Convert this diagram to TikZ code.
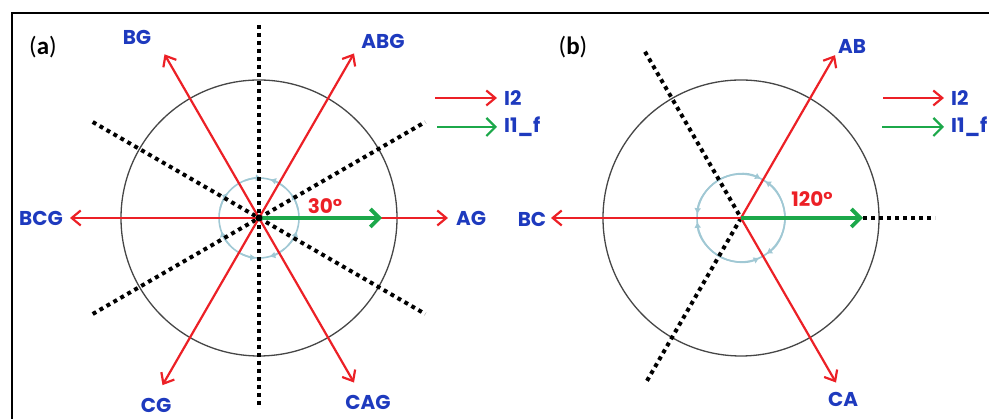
\documentclass[tikz,border=0pt]{standalone}
\usepackage{fontspec}
\setmainfont{Poppins}
\newfontfamily\tagfont{Carlito}
\usepackage{tikz}
\usetikzlibrary{arrows.meta}
\definecolor{PhasorRed}{RGB}{236, 32, 38}
\definecolor{FundGreen}{RGB}{28, 168, 74}
\definecolor{PhaseBlue}{RGB}{30, 58, 190}
\definecolor{SkyTick}{RGB}{160, 200, 212}
\definecolor{RingGray}{RGB}{70, 70, 70}

\begin{document}
\begin{tikzpicture}[x=1pt, y=1pt,
  phasor/.style={PhasorRed, line width=2.2pt, -{Straight Barb[length=9pt, width=15pt]}},
  fund/.style={FundGreen, line width=3.8pt, -{Straight Barb[length=9pt, width=18pt]}},
  axisdots/.style={line width=4pt, dash pattern=on 4pt off 4pt},
  ring/.style={draw=RingGray, line width=1.3pt},
  tickarc/.style={SkyTick, line width=1.6pt, -{Latex[length=6pt, width=7pt]}},
  lbl/.style={PhaseBlue, font=\bfseries\fontsize{20}{23}\selectfont, inner sep=1pt},
  anglbl/.style={PhasorRed, font=\bfseries\fontsize{20}{23}\selectfont, inner sep=1pt},
  tag/.style={font=\tagfont\fontsize{25}{28}\selectfont, inner sep=1pt}]
\useasboundingbox (0,0) rectangle (989,419);
\draw[line width=1.8pt] (12,0) -- (12,406) -- (989,406);

% (a) ground faults
\coordinate (ca) at (259,201);
\draw[ring] (ca) circle (138);
\draw[SkyTick, line width=1.6pt] (ca) circle (40);
\draw[tickarc] ([shift={(12:40)}]ca) arc[start angle=12, end angle=37, radius=40];
\draw[tickarc] ([shift={(49:40)}]ca) arc[start angle=49, end angle=74, radius=40];
\draw[tickarc] ([shift={(111:40)}]ca) arc[start angle=111, end angle=86, radius=40];
\draw[tickarc] ([shift={(166:40)}]ca) arc[start angle=166, end angle=141, radius=40];
\draw[tickarc] ([shift={(224:40)}]ca) arc[start angle=224, end angle=199, radius=40];
\draw[tickarc] ([shift={(241:40)}]ca) arc[start angle=241, end angle=266, radius=40];
\draw[tickarc] ([shift={(310:40)}]ca) arc[start angle=310, end angle=285, radius=40];
\draw[tickarc] ([shift={(316:40)}]ca) arc[start angle=316, end angle=341, radius=40];
\draw[axisdots] ([shift={(90:193)}]ca) -- ([shift={(270:190)}]ca);
\draw[axisdots] ([shift={(150:192)}]ca) -- ([shift={(330:192)}]ca);
\draw[axisdots] ([shift={(210:192)}]ca) -- ([shift={(30:192)}]ca);
\coordinate (tAG) at ([shift={(0:189)}]ca);
\coordinate (tABG) at ([shift={(60:190)}]ca);
\coordinate (tBG) at ([shift={(120:189)}]ca);
\coordinate (tBCG) at ([shift={(180:189)}]ca);
\coordinate (tCG) at ([shift={(240:193)}]ca);
\coordinate (tCAG) at ([shift={(300:190)}]ca);
\draw[phasor] (ca) -- (tAG);
\draw[phasor] (ca) -- (tABG);
\draw[phasor] (ca) -- (tBG);
\draw[phasor] (ca) -- (tBCG);
\draw[phasor] (ca) -- (tCG);
\draw[phasor] (ca) -- (tCAG);
\coordinate (ga) at ([shift={(0:123)}]ca);
\draw[fund] (ca) -- (ga);
\fill (ca) circle (3.5);
\node[lbl] (nAG) at (471,201) {AG};
\node[lbl] (nABG) at (383,378) {ABG};
\node[lbl] (nBG) at (137,382) {BG};
\node[lbl] (nBCG) at (41,201) {BCG};
\node[lbl] (nCG) at (156,14) {CG};
\node[lbl] (nCAG) at (368,17) {CAG};
\node[anglbl] (ang30) at (325,213) {30°};
\node[tag] (tagA) at (43,372) {(\textbf{a})};
\coordinate (lra) at (435,321);
\coordinate (lga) at (437,292);
\node[lbl, anchor=west] (keyIa) at (503,321) {I2};
\node[lbl, anchor=west] (keyFa) at (503,292) {I1\_f};
\draw[phasor, shorten >=6pt] (lra) -- (keyIa.west);
\draw[fund, line width=2.2pt, shorten >=6pt] (lga) -- (keyFa.west);

% (b) phase-to-phase faults
\coordinate (cb) at (741,201);
\draw[ring] (cb) circle (138);
\draw[SkyTick, line width=1.6pt] (cb) circle (44);
\draw[tickarc, {Latex[length=6pt, width=7pt]}-{Latex[length=6pt, width=7pt]}] ([shift={(63:44)}]cb) arc[start angle=63, end angle=175, radius=44];
\draw[tickarc, {Latex[length=6pt, width=7pt]}-{Latex[length=6pt, width=7pt]}] ([shift={(185:44)}]cb) arc[start angle=185, end angle=295, radius=44];
\draw[tickarc, {Latex[length=6pt, width=7pt]}-{Latex[length=6pt, width=7pt]}] ([shift={(305:44)}]cb) arc[start angle=305, end angle=417, radius=44];
\draw[axisdots] ([shift={(120:192)}]cb) -- (cb);
\draw[axisdots] ([shift={(240:188)}]cb) -- (cb);
\coordinate (gb) at ([shift={(0:122)}]cb);
\coordinate (db) at ([shift={(0:194)}]cb);
\draw[axisdots] (gb) -- (db);
\coordinate (tAB) at ([shift={(60:188)}]cb);
\coordinate (tBC) at ([shift={(180:190)}]cb);
\coordinate (tCA) at ([shift={(300:190)}]cb);
\draw[phasor] (cb) -- (tAB);
\draw[phasor] (cb) -- (tBC);
\draw[phasor] (cb) -- (tCA);
\draw[fund] (cb) -- (gb);
\node[lbl] (nAB) at (852,373) {AB};
\node[lbl] (nBC) at (532,200) {BC};
\node[lbl] (nCA) at (843,20) {CA};
\node[anglbl] (ang120) at (812,220) {120°};
\node[tag] (tagB) at (573,372) {(\textbf{b})};
\coordinate (lrb) at (883,321);
\coordinate (lgb) at (882,292);
\node[lbl, anchor=west] (keyIb) at (950,321) {I2};
\node[lbl, anchor=west] (keyFb) at (950,292) {I1\_f};
\draw[phasor, shorten >=6pt] (lrb) -- (keyIb.west);
\draw[fund, line width=2.2pt, shorten >=6pt] (lgb) -- (keyFb.west);
\end{tikzpicture}
\end{document}
